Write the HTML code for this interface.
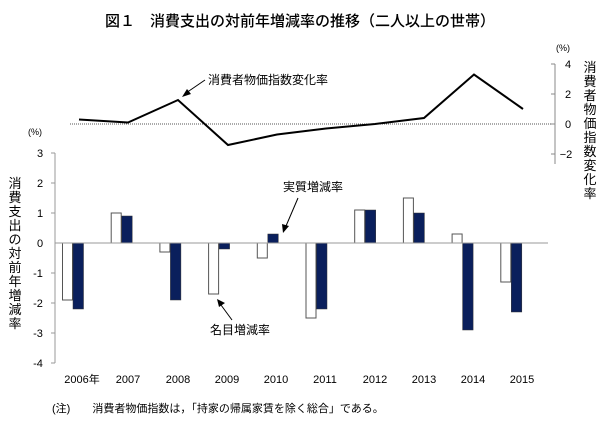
<!DOCTYPE html>
<html><head><meta charset="utf-8"><style>
body{margin:0;background:#fff}
svg{display:block;font-family:"Liberation Sans","Noto Sans CJK JP",sans-serif}
</style></head><body>
<svg width="613" height="428" viewBox="0 0 613 428" xmlns="http://www.w3.org/2000/svg">
<text x="300" y="26" font-size="15" text-anchor="middle" font-weight="500" fill="#000">図１　消費支出の対前年増減率の推移（二人以上の世帯）</text>

<line x1="70" y1="124" x2="555" y2="124" stroke="#555" stroke-dasharray="1,1"/>
<line x1="555" y1="64" x2="555" y2="164" stroke="#888"/>
<g stroke="#888"><line x1="551" y1="64" x2="555" y2="64"/><line x1="551" y1="94" x2="555" y2="94"/><line x1="551" y1="124" x2="555" y2="124"/><line x1="551" y1="154" x2="555" y2="154"/></g>
<g font-size="11" fill="#000">
<text x="568" y="68" text-anchor="middle">4</text>
<text x="568" y="98" text-anchor="middle">2</text>
<text x="568" y="128" text-anchor="middle">0</text>
<text x="566" y="158" text-anchor="middle">−2</text>
<text x="556" y="51" font-size="9">(%)</text>
<text x="28" y="135" font-size="9">(%)</text>
</g>
<polyline fill="none" stroke="#000" stroke-width="2" points="79,119.5 128,122.5 178,100 228,145 277,134.5 326,128.5 375,124 424,118 474,74.5 523,109"/>
<line x1="205" y1="80" x2="186" y2="93" stroke="#000"/>
<polygon points="182,97 187,89 191,94" fill="#000"/>
<text x="208" y="84" font-size="12">消費者物価指数変化率</text>
<g font-size="13" text-anchor="middle">
<text x="590" y="72">消</text><text x="590" y="86">費</text><text x="590" y="100">者</text><text x="590" y="114">物</text><text x="590" y="128">価</text><text x="590" y="142">指</text><text x="590" y="156">数</text><text x="590" y="170">変</text><text x="590" y="184">化</text><text x="590" y="198">率</text>
</g>

<line x1="55" y1="153" x2="55" y2="363" stroke="#999"/>
<g stroke="#999">
<line x1="51" y1="153" x2="55" y2="153"/><line x1="51" y1="183" x2="55" y2="183"/><line x1="51" y1="213" x2="55" y2="213"/><line x1="51" y1="273" x2="55" y2="273"/><line x1="51" y1="303" x2="55" y2="303"/><line x1="51" y1="333" x2="55" y2="333"/><line x1="51" y1="363" x2="55" y2="363"/>
</g>
<g font-size="11" text-anchor="middle">
<text x="40" y="157">3</text><text x="40" y="187">2</text><text x="40" y="217">1</text><text x="40" y="247">0</text><text x="38" y="277">-1</text><text x="38" y="307">-2</text><text x="38" y="337">-3</text><text x="38" y="367">-4</text>
</g>
<g font-size="13" text-anchor="middle">
<text x="15" y="188">消</text><text x="15" y="202">費</text><text x="15" y="216">支</text><text x="15" y="230">出</text><text x="15" y="244">の</text><text x="15" y="258">対</text><text x="15" y="272">前</text><text x="15" y="286">年</text><text x="15" y="300">増</text><text x="15" y="314">減</text><text x="15" y="328">率</text>
</g>
<g stroke="#555" stroke-width="1" fill="#fff">
<rect x="62.5" y="243" width="10" height="57"/>
<rect x="111.2" y="213" width="10" height="30"/>
<rect x="159.9" y="243" width="10" height="9"/>
<rect x="208.6" y="243" width="10" height="51"/>
<rect x="257.3" y="243" width="10" height="15"/>
<rect x="306" y="243" width="10" height="75"/>
<rect x="354.7" y="210" width="10" height="33"/>
<rect x="403.4" y="198" width="10" height="45"/>
<rect x="452.1" y="234" width="10" height="9"/>
<rect x="500.8" y="243" width="10" height="39"/>
</g>
<g fill="#0a1f5c" stroke="#333" stroke-width="0.5">
<rect x="73" y="243" width="10.5" height="66"/>
<rect x="121.7" y="216" width="10.5" height="27"/>
<rect x="170.4" y="243" width="10.5" height="57"/>
<rect x="219.1" y="243" width="10.5" height="6"/>
<rect x="267.8" y="234" width="10.5" height="9"/>
<rect x="316.5" y="243" width="10.5" height="66"/>
<rect x="365.2" y="210" width="10.5" height="33"/>
<rect x="413.9" y="213" width="10.5" height="30"/>
<rect x="462.6" y="243" width="10.5" height="87"/>
<rect x="511.3" y="243" width="10.5" height="69"/>
</g>
<line x1="55" y1="243" x2="548" y2="243" stroke="#999"/>
<g font-size="11" text-anchor="middle">
<text x="82" y="383">2006年</text><text x="128" y="383">2007</text><text x="178" y="383">2008</text><text x="227" y="383">2009</text><text x="276" y="383">2010</text><text x="325" y="383">2011</text><text x="375" y="383">2012</text><text x="424" y="383">2013</text><text x="473" y="383">2014</text><text x="522" y="383">2015</text>
</g>
<text x="283" y="191" font-size="12">実質増減率</text>
<line x1="298" y1="198" x2="286" y2="226" stroke="#000"/>
<polygon points="283,233 282,224 289,226" fill="#000"/>
<text x="210" y="334" font-size="12">名目増減率</text>
<line x1="232" y1="320" x2="221" y2="305" stroke="#000"/>
<polygon points="217,299 225,303 219,307" fill="#000"/>

<text x="52" y="412" font-size="11">(注)　　消費者物価指数は，「持家の帰属家賃を除く総合」である。</text>
</svg>
</body></html>
